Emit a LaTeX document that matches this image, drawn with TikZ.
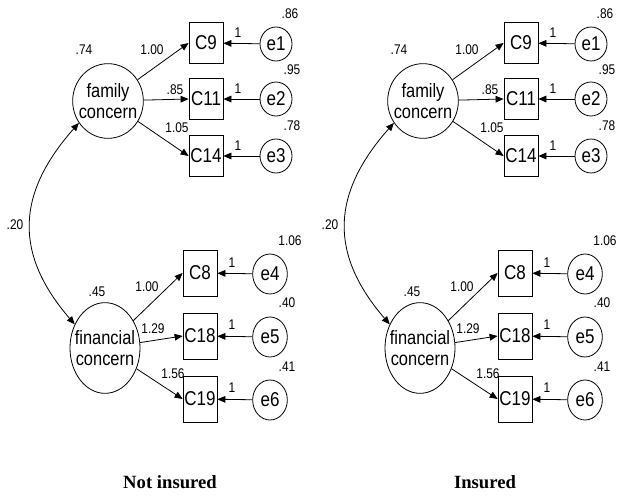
\documentclass[tikz,border=0pt]{standalone}
\usepackage{fontspec}
\setmainfont{Liberation Sans}[FakeStretch=0.85]
\newfontfamily\titlefont{Liberation Serif}
\usetikzlibrary{arrows.meta,shapes.geometric}
\tikzset{
  every path/.style={line width=0.6pt},
  lat/.style={draw, ellipse, inner xsep=-6pt, inner ysep=0pt, align=center, font=\fontsize{14.5}{16}\selectfont},
  latA/.style={lat, minimum width=53pt, minimum height=56pt},
  latB/.style={lat, minimum width=52.5pt, minimum height=68pt},
  obs/.style={draw, rectangle, inner sep=0pt, font=\fontsize{15}{16}\selectfont},
  obsA/.style={obs, minimum width=25.5pt, minimum height=31pt},
  obsB/.style={obs, minimum width=25.5pt, minimum height=34.5pt},
  err/.style={draw, ellipse, inner sep=0pt, font=\fontsize{15}{16}\selectfont},
  errA/.style={err, minimum width=24pt, minimum height=25.5pt},
  errB/.style={err, minimum width=26pt, minimum height=30pt},
  num/.style={inner sep=0pt, font=\fontsize{10.5}{11}\selectfont},
  ttl/.style={inner sep=0pt, font=\titlefont\bfseries\fontsize{14}{16}\selectfont},
  arr/.style={-{Triangle[length=6pt,width=5pt]}},
  dbl/.style={{Triangle[length=6pt,width=5pt]}-{Triangle[length=6pt,width=5pt]}},
}
\newcommand{\sempanel}[3]{%
\begin{scope}[xshift=#1]
  % top factor
  \node[latA] (#2fam) at (108,101) {family\\concern};
  \node[obsA] (#2c9)  at (206,43)  {C9};
  \node[obsA] (#2c11) at (206,99)  {C11};
  \node[obsA] (#2c14) at (206,156) {C14};
  \node[errA] (#2e1) at (276,44)  {e1};
  \node[errA] (#2e2) at (276,99)  {e2};
  \node[errA] (#2e3) at (276,156) {e3};
  % bottom factor
  \node[latB] (#2fin) at (105,348) {financial\\concern};
  \node[obsB] (#2c8)  at (200,273) {C8};
  \node[obsB] (#2c18) at (200,336) {C18};
  \node[obsB] (#2c19) at (200,399) {C19};
  \node[errB] (#2e4) at (270,274) {e4};
  \node[errB] (#2e5) at (270,337) {e5};
  \node[errB] (#2e6) at (270,400) {e6};
  % loadings
  \draw[arr] (#2fam) -- (#2c9.west);
  \draw[arr] (#2fam) -- (#2c11.west);
  \draw[arr] (#2fam) -- (#2c14.west);
  \draw[arr] (#2fin) -- (#2c8.west);
  \draw[arr] (#2fin) -- (#2c18.west);
  \draw[arr] (#2fin) -- (#2c19.west);
  % errors
  \draw[arr] (#2e1) -- (#2c9);
  \draw[arr] (#2e2) -- (#2c11);
  \draw[arr] (#2e3) -- (#2c14);
  \draw[arr] (#2e4) -- (#2c8);
  \draw[arr] (#2e5) -- (#2c18);
  \draw[arr] (#2e6) -- (#2c19);
  % covariance
  \draw[dbl] (#2fam.217) .. controls (15,195) and (15,255) .. (#2fin.142);
  % numbers
  \node[num] (#2v1) at (84,50)  {.74};
  \node[num] (#2v2) at (152,50) {1.00};
  \node[num] (#2v3) at (175,90) {.85};
  \node[num] (#2v4) at (177,128) {1.05};
  \node[num] (#2v5) at (290,14) {.86};
  \node[num] (#2v6) at (292,70) {.95};
  \node[num] (#2v7) at (292,126) {.78};
  \node[num] (#2o1) at (238,33) {1};
  \node[num] (#2o2) at (238,89) {1};
  \node[num] (#2o3) at (238,146) {1};
  \node[num] (#2v8) at (15,225) {.20};
  \node[num] (#2v9) at (290,241) {1.06};
  \node[num] (#2v10) at (97,292) {.45};
  \node[num] (#2v11) at (147,287) {1.00};
  \node[num] (#2v12) at (153,329) {1.29};
  \node[num] (#2v13) at (173,374) {1.56};
  \node[num] (#2v14) at (287,303) {.40};
  \node[num] (#2v15) at (287,367) {.41};
  \node[num] (#2o4) at (232,263) {1};
  \node[num] (#2o5) at (232,325) {1};
  \node[num] (#2o6) at (232,388) {1};
  \node[ttl] (#2title) at (170,482) {#3};
\end{scope}}
\begin{document}
\begin{tikzpicture}[x=0.75pt,y=-0.75pt]
\useasboundingbox (0,0) rectangle (620,495);
\sempanel{0pt}{L}{Not insured}
\sempanel{236.25pt}{R}{Insured}
\end{tikzpicture}
\end{document}
